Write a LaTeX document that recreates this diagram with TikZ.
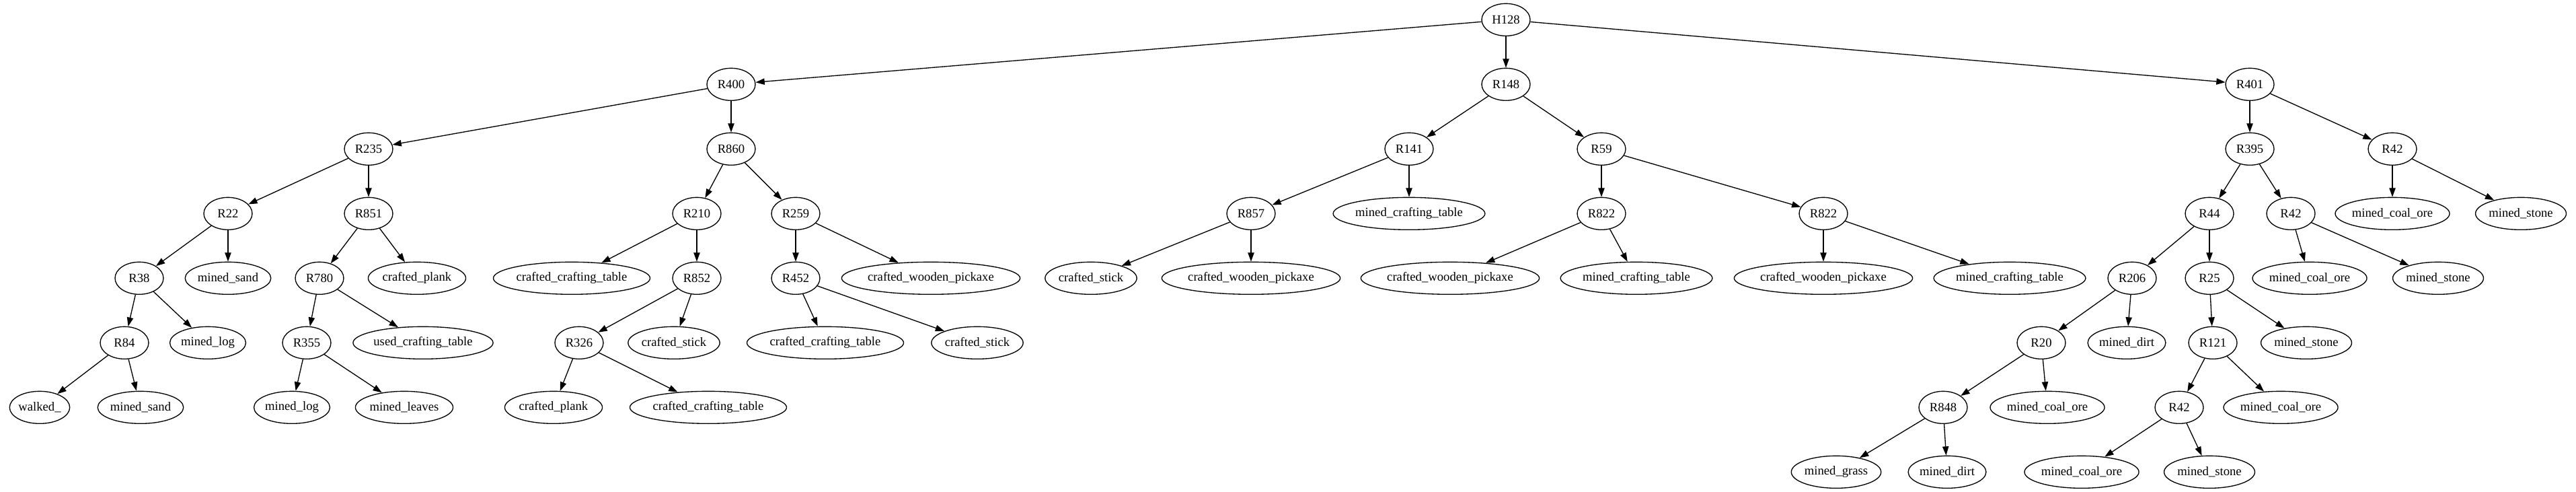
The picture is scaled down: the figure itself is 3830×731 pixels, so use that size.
\documentclass[tikz,border=0pt]{standalone}
\usepackage{fontspec}
\setmainfont{Liberation Serif}
\usetikzlibrary{shapes.geometric,arrows.meta}
\newlength\gvw
\newcommand\gvfont{\fontsize{14}{16}\selectfont}
\newcommand\gvnode[4]{%
  \settowidth{\gvw}{\gvfont #4}%
  \pgfmathsetlengthmacro\gvmw{max(54pt,1.3*\gvw+20.8pt)}%
  \node[gvbox, minimum width=\gvmw] (#1) at (#2,{29.33+96*#3}) {#4};}
\tikzset{
  gvbox/.style={draw, ellipse, line width=1pt, inner sep=0pt, minimum height=36pt, font=\gvfont},
  gvedge/.style={line width=1pt, -{Triangle[length=10pt,width=7pt]}}
}
\begin{document}
\begin{tikzpicture}[x=0.75pt,y=-0.75pt]
\useasboundingbox (0,0) rectangle (3830,731);
% level 0
\gvnode{H128}{2239}{0}{H128}
% level 1
\gvnode{R400}{1087}{1}{R400}
\gvnode{R148}{2239}{1}{R148}
\gvnode{R401}{3345}{1}{R401}
% level 2
\gvnode{R235}{548}{2}{R235}
\gvnode{R860}{1087}{2}{R860}
\gvnode{R141}{2095}{2}{R141}
\gvnode{R59}{2381}{2}{R59}
\gvnode{R395}{3345}{2}{R395}
\gvnode{R42a}{3557}{2}{R42}
% level 3
\gvnode{R22}{339}{3}{R22}
\gvnode{R851}{548}{3}{R851}
\gvnode{R210}{1036}{3}{R210}
\gvnode{R259}{1183}{3}{R259}
\gvnode{R857}{1860}{3}{R857}
\gvnode{mct1}{2095}{3}{mined\_crafting\_table}
\gvnode{R822a}{2381}{3}{R822}
\gvnode{R822b}{2711}{3}{R822}
\gvnode{R44}{3285}{3}{R44}
\gvnode{R42b}{3406}{3}{R42}
\gvnode{mco1}{3557}{3}{mined\_coal\_ore}
\gvnode{ms1}{3748}{3}{mined\_stone}
% level 4
\gvnode{R38}{207}{4}{R38}
\gvnode{msand1}{339}{4}{mined\_sand}
\gvnode{R780}{475}{4}{R780}
\gvnode{cplank1}{620}{4}{crafted\_plank}
\gvnode{cct1}{850}{4}{crafted\_crafting\_table}
\gvnode{R852}{1036}{4}{R852}
\gvnode{R452}{1183}{4}{R452}
\gvnode{cwp1}{1384}{4}{crafted\_wooden\_pickaxe}
\gvnode{cstick1}{1622}{4}{crafted\_stick}
\gvnode{cwp2}{1860}{4}{crafted\_wooden\_pickaxe}
\gvnode{cwp3}{2156}{4}{crafted\_wooden\_pickaxe}
\gvnode{mct2}{2433}{4}{mined\_crafting\_table}
\gvnode{cwp4}{2711}{4}{crafted\_wooden\_pickaxe}
\gvnode{mct3}{2988}{4}{mined\_crafting\_table}
\gvnode{R206}{3170}{4}{R206}
\gvnode{R25}{3285}{4}{R25}
\gvnode{mco2}{3434}{4}{mined\_coal\_ore}
\gvnode{ms2}{3625}{4}{mined\_stone}
% level 5
\gvnode{R84}{185}{5}{R84}
\gvnode{mlog1}{309}{5}{mined\_log}
\gvnode{R355}{456}{5}{R355}
\gvnode{uct}{629}{5}{used\_crafting\_table}
\gvnode{R326}{861}{5}{R326}
\gvnode{cstick2}{1002}{5}{crafted\_stick}
\gvnode{cct2}{1227}{5}{crafted\_crafting\_table}
\gvnode{cstick3}{1453}{5}{crafted\_stick}
\gvnode{R20}{3035}{5}{R20}
\gvnode{mdirt1}{3162}{5}{mined\_dirt}
\gvnode{R121}{3290}{5}{R121}
\gvnode{ms3}{3429}{5}{mined\_stone}
% level 6
\gvnode{walked}{59}{6}{walked\_}
\gvnode{msand2}{209}{6}{mined\_sand}
\gvnode{mlog2}{434}{6}{mined\_log}
\gvnode{mleaves}{601}{6}{mined\_leaves}
\gvnode{cplank2}{823}{6}{crafted\_plank}
\gvnode{cct3}{1053}{6}{crafted\_crafting\_table}
\gvnode{R848}{2889}{6}{R848}
\gvnode{mco3}{3044}{6}{mined\_coal\_ore}
\gvnode{R42c}{3240}{6}{R42}
\gvnode{mco4}{3391}{6}{mined\_coal\_ore}
% level 7
\gvnode{mgrass}{2730}{7}{mined\_grass}
\gvnode{mdirt2}{2895}{7}{mined\_dirt}
\gvnode{mco5}{3095}{7}{mined\_coal\_ore}
\gvnode{ms4}{3285}{7}{mined\_stone}
% edges
\foreach \a/\b in {H128/R400, H128/R148, H128/R401,
  R400/R235, R400/R860, R235/R22, R235/R851, R22/R38, R22/msand1,
  R38/R84, R38/mlog1, R84/walked, R84/msand2,
  R851/R780, R851/cplank1, R780/R355, R780/uct, R355/mlog2, R355/mleaves,
  R860/R210, R860/R259, R210/cct1, R210/R852, R852/R326, R852/cstick2,
  R326/cplank2, R326/cct3, R259/R452, R259/cwp1, R452/cct2, R452/cstick3,
  R148/R141, R148/R59, R141/R857, R141/mct1, R857/cstick1, R857/cwp2,
  R59/R822a, R59/R822b, R822a/cwp3, R822a/mct2, R822b/cwp4, R822b/mct3,
  R401/R395, R401/R42a, R395/R44, R395/R42b, R44/R206, R44/R25,
  R206/R20, R206/mdirt1, R20/R848, R20/mco3, R848/mgrass, R848/mdirt2,
  R25/R121, R25/ms3, R121/R42c, R121/mco4, R42c/mco5, R42c/ms4,
  R42b/mco2, R42b/ms2, R42a/mco1, R42a/ms1}
  \draw[gvedge] (\a) -- (\b);
\end{tikzpicture}
\end{document}
